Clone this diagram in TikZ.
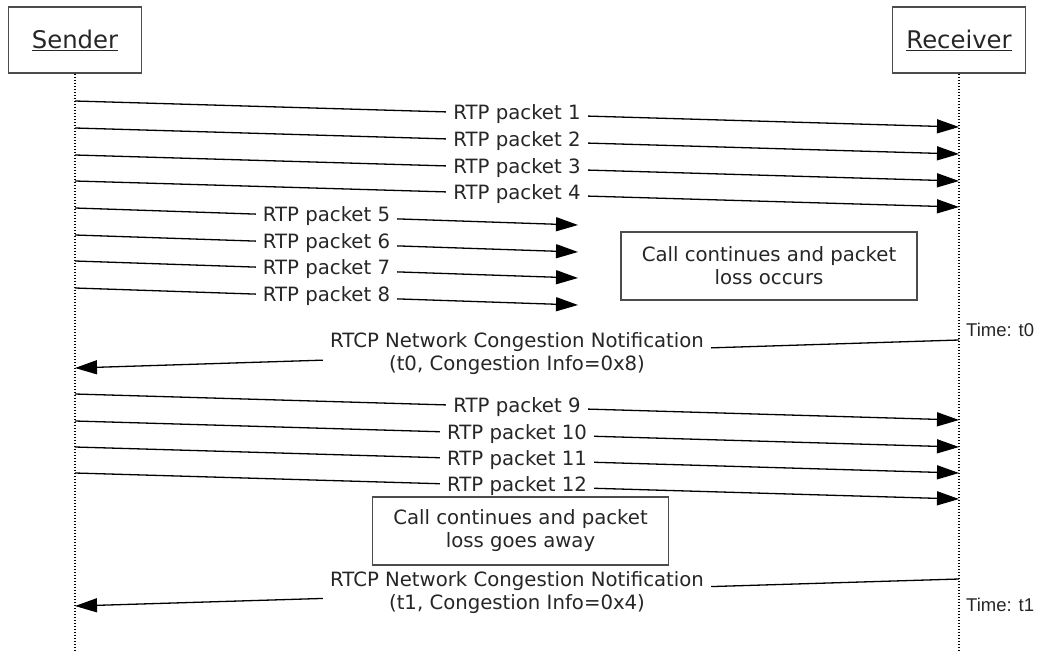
\documentclass[tikz,border=0pt]{standalone}
\usepackage{fontspec}
\setmainfont{DejaVu Sans}
\newfontfamily\timefont{Liberation Sans}
\usetikzlibrary{arrows.meta, positioning}

\begin{document}
\begin{tikzpicture}[x=1pt, y=-1pt]
        % --- Styles ---
        \tikzstyle{actor}=[draw=black!70, line width=1.5pt, minimum width=133pt, minimum height=66pt, inner sep=0pt, text=black!85, font=\fontsize{24.3}{29}\selectfont]
        \tikzstyle{lifeline}=[line width=1.2pt, dash pattern=on 1.2pt off 1.8pt]
        \tikzstyle{msg}=[line width=1.3pt, -{Triangle[length=22pt, width=14pt]}]
        \tikzstyle{lbl}=[fill=white, inner xsep=7pt, inner ysep=1pt, align=center, text=black!85, font=\fontsize{19.7}{23}\selectfont]
        \tikzstyle{notebox}=[draw=black!70, line width=1.5pt, minimum width=296pt, minimum height=68pt, align=center, text=black!85, font=\fontsize{19.7}{23}\selectfont]
        \tikzstyle{timelbl}=[anchor=west, inner sep=0pt, text=black!85, font=\timefont\fontsize{18.5}{22}\selectfont]

        \useasboundingbox (0,0) rectangle (1040,653);

        % --- 1. Actors and lifelines ---
        \node[actor] (sender) at (75,40) {\underline{Sender}};
        \node[actor] (receiver) at (959,40) {\underline{Receiver}};
        \coordinate (senderEnd) at (75,652);
        \coordinate (receiverEnd) at (959,652);
        \draw[lifeline] (sender.south) -- (senderEnd);
        \draw[lifeline] (receiver.south) -- (receiverEnd);

        % --- 2. Packets that arrive ---
        \foreach \i/\ys in {1/101, 2/128, 3/155, 4/181} {
            \coordinate (snd\i) at (75,\ys);
            \coordinate (rcv\i) at (959,\ys+26);
            \draw[msg] (snd\i) -- (rcv\i) node[lbl, midway] {RTP packet \i};
        }

        % --- 3. Packets that get lost ---
        \foreach \i/\ys in {5/208, 6/235, 7/261, 8/288} {
            \coordinate (snd\i) at (75,\ys);
            \coordinate (lost\i) at (578,\ys+17);
            \draw[msg] (snd\i) -- (lost\i) node[lbl, midway] {RTP packet \i};
        }
        \node[notebox] (lossNote) at (769,266) {Call continues and packet\\loss occurs};

        % --- 4. First notification ---
        \coordinate (rcvN0) at (959,340);
        \coordinate (sndN0) at (75,368);
        \draw[msg] (rcvN0) -- (sndN0) node[lbl, midway] {RTCP Network Congestion Notification\\(t0, Congestion Info=0x8)};
        \node[timelbl] (time0) at (966,330) {Time: t0};

        % --- 5. Packets after recovery ---
        \foreach \i/\ys in {9/394, 10/421, 11/447, 12/473} {
            \coordinate (snd\i) at (75,\ys);
            \coordinate (rcv\i) at (959,\ys+26);
            \draw[msg] (snd\i) -- (rcv\i) node[lbl, midway] {RTP packet \i};
        }
        \node[notebox] (okNote) at (520.5,531) {Call continues and packet\\loss goes away};

        % --- 6. Second notification ---
        \coordinate (rcvN1) at (959,579);
        \coordinate (sndN1) at (75,606);
        \draw[msg] (rcvN1) -- (sndN1) node[lbl, midway] {RTCP Network Congestion Notification\\(t1, Congestion Info=0x4)};
        \node[timelbl] (time1) at (966,605) {Time: t1};

    \end{tikzpicture}
\end{document}
